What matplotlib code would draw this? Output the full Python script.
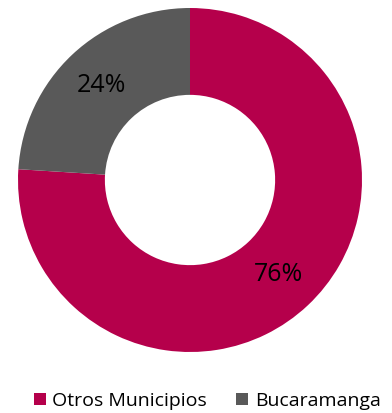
import matplotlib.pyplot as plt
from matplotlib.patches import Patch

labels = ['Otros Municipios', 'Bucaramanga']
values = [76, 24]
colors = ['#B5004B', '#595959']

plt.rcParams['font.family'] = ['Open Sans', 'DejaVu Sans']

fig = plt.figure(figsize=(3.92, 4.13), dpi=100)
ax = fig.add_axes([18 / 392, 61 / 413, 344 / 392, 344 / 413])

wedges, texts, autotexts = ax.pie(
    values, colors=colors, startangle=90, counterclock=False,
    autopct='%d%%', pctdistance=0.75, radius=1.0,
    wedgeprops=dict(width=0.505, linewidth=0),
    textprops=dict(fontsize=18, color='black'))
ax.set_xlim(-1, 1)
ax.set_ylim(-1, 1)
ax.set_aspect('equal')
ax.axis('off')

handles = [Patch(facecolor=c, edgecolor='none') for c in colors]
fig.legend(handles, labels, loc='center left', bbox_to_anchor=(34 / 392, 1 - 401 / 413),
           ncol=2, frameon=False, fontsize=14, handlelength=0.6, handleheight=0.6,
           handletextpad=0.35, columnspacing=1.5, borderpad=0, borderaxespad=0)

fig.savefig('out.png', dpi=100)
